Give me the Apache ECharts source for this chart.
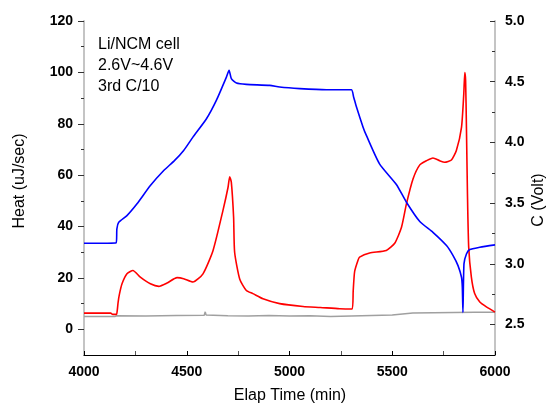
<!DOCTYPE html>
<html>
<head>
<meta charset="utf-8">
<script src="https://cdn.jsdelivr.net/npm/echarts@6/dist/echarts.min.js"></script>
<style>
html,body{margin:0;padding:0;background:#fff;}
#chart{width:547px;height:406px;}
</style>
</head>
<body>
<div id="chart"></div>
<script>
// ---- data ----
var heatTicks = [0, 20, 40, 60, 80, 100, 120];
var heatMinorTicks = [10, 30, 50, 70, 90, 110];
var voltTicks = [2.5, 3.0, 3.5, 4.0, 4.5, 5.0];
var voltMinorTicks = [2.75, 3.25, 3.75, 4.25, 4.75];
var annotation = ["Li/NCM cell", "2.6V~4.6V", "3rd C/10"];
var xTitle = "Elap Time (min)";
var leftTitle = "Heat (uJ/sec)";
var rightTitle = "C (Volt)";

// Heat (red), left axis
var redTime = [4000, 4130, 4140, 4158, 4162, 4166, 4172, 4185, 4209, 4238, 4274, 4323, 4364, 4404, 4453, 4485, 4530, 4579, 4628, 4676, 4701, 4709, 4717, 4728, 4733, 4758, 4790, 4822, 4871, 4952, 5066, 5150, 5244, 5305, 5310, 5317, 5333, 5341, 5390, 5471, 5512, 5545, 5569, 5601, 5634, 5666, 5698, 5731, 5755, 5788, 5812, 5837, 5848, 5853, 5857, 5861, 5866, 5872, 5885, 5901, 5926, 5958, 6000];
var redHeat = [6.3, 6.3, 5.8, 5.8, 7.5, 10.5, 13.5, 17.7, 21.6, 22.9, 20.3, 17.7, 16.7, 18.0, 20.1, 19.7, 18.4, 21.6, 30.7, 46.2, 55.3, 59.4, 57.2, 43.6, 30.0, 19.5, 15.1, 13.9, 11.9, 10.0, 8.9, 8.5, 8.0, 7.9, 15.0, 22.5, 26.8, 28.1, 29.7, 30.7, 33.5, 39.7, 48.8, 58.5, 64.0, 65.6, 66.7, 65.6, 65.0, 65.9, 69.6, 78.6, 91.5, 99.9, 96.7, 78.6, 52.7, 32.0, 20.3, 13.9, 10.6, 8.7, 6.7];

// Voltage (blue), right axis
var blueTime = [4000, 4157, 4160, 4169, 4209, 4258, 4323, 4388, 4440, 4485, 4530, 4596, 4644, 4693, 4706, 4717, 4742, 4790, 4904, 4952, 5050, 5180, 5301, 5312, 5326, 5358, 5374, 5438, 5520, 5569, 5634, 5698, 5764, 5796, 5820, 5837, 5841, 5844, 5849, 5861, 5877, 5926, 6000];
var blueVolt = [3.17, 3.175, 3.289, 3.343, 3.398, 3.495, 3.645, 3.769, 3.850, 3.934, 4.044, 4.195, 4.346, 4.538, 4.594, 4.525, 4.489, 4.478, 4.470, 4.456, 4.443, 4.434, 4.434, 4.375, 4.291, 4.126, 4.058, 3.824, 3.654, 3.508, 3.349, 3.260, 3.151, 3.068, 2.986, 2.890, 2.807, 2.601, 3.000, 3.082, 3.118, 3.137, 3.157];

// Baseline heat (gray), left axis
var grayTime = [4000, 4150, 4160, 4300, 4450, 4585, 4590, 4594, 4700, 4800, 4900, 5000, 5100, 5200, 5300, 5400, 5500, 5600, 5700, 5800, 5900, 6000];
var grayHeat = [5.0, 5.0, 5.3, 5.2, 5.4, 5.5, 6.8, 5.6, 5.3, 5.2, 5.4, 5.2, 5.3, 5.0, 5.2, 5.4, 5.6, 6.3, 6.4, 6.5, 6.6, 6.6];

function zip(a, b) { return a.map(function (v, i) { return [v, b[i]]; }); }

var FONT = '"Liberation Sans", Arial, sans-serif';
var chart = echarts.init(document.getElementById('chart'), null, {renderer: 'canvas'});

var option = {
  backgroundColor: '#fff',
  animation: false,
  grid: {left: 84, right: 52, top: 21, bottom: 51, containLabel: false, outerBoundsMode: 'none'},
  xAxis: {
    type: 'value', min: 4000, max: 6000, interval: 500,
    axisLine: {show: true, onZero: false, lineStyle: {color: '#000', width: 1}},
    axisTick: {show: true, inside: true, length: 4, lineStyle: {color: '#000'}},
    minorTick: {show: true, splitNumber: 2, length: 4, lineStyle: {color: '#555'}},
    axisLabel: {fontFamily: FONT, fontSize: 14, fontWeight: 'bold', color: '#000', margin: 10,
      formatter: function (v) { return String(v); }},
    splitLine: {show: false}
  },
  yAxis: [
    {
      type: 'value', position: 'left', min: -10, max: 120,
      axisLine: {show: true, onZero: false, lineStyle: {color: '#c4c4c4', width: 2}},
      axisTick: {show: true, inside: false, length: 6, customValues: heatTicks, lineStyle: {color: '#333'}},
      axisLabel: {fontFamily: FONT, fontSize: 14, fontWeight: 'bold', color: '#000', margin: 11, customValues: heatTicks},
      splitLine: {show: false}
    },
    {
      type: 'value', position: 'left', min: -10, max: 120,
      axisLine: {show: false},
      axisTick: {show: true, inside: false, length: 3, customValues: heatMinorTicks, lineStyle: {color: '#333'}},
      axisLabel: {show: false},
      splitLine: {show: false}
    },
    {
      type: 'value', position: 'right', min: 2.25, max: 5.0,
      axisLine: {show: true, onZero: false, lineStyle: {color: '#c4c4c4', width: 2}},
      axisTick: {show: true, inside: true, length: 5, customValues: voltTicks, lineStyle: {color: '#333'}},
      axisLabel: {fontFamily: FONT, fontSize: 14, fontWeight: 'bold', color: '#000', margin: 10, customValues: voltTicks,
        formatter: function (v) { return v.toFixed(1); }},
      splitLine: {show: false}
    },
    {
      type: 'value', position: 'right', min: 2.25, max: 5.0,
      axisLine: {show: false},
      axisTick: {show: true, inside: true, length: 3, customValues: voltMinorTicks, lineStyle: {color: '#333'}},
      axisLabel: {show: false},
      splitLine: {show: false}
    }
  ],
  series: [
    {type: 'line', yAxisIndex: 0, data: zip(grayTime, grayHeat), showSymbol: false, symbol: 'none',
      lineStyle: {color: '#a0a0a0', width: 1.5}, z: 2},
    {type: 'line', yAxisIndex: 0, data: zip(redTime, redHeat), showSymbol: false, symbol: 'none',
      smooth: 0.2,
      lineStyle: {color: '#ff0000', width: 1.6}, z: 3},
    {type: 'line', yAxisIndex: 2, data: zip(blueTime, blueVolt), showSymbol: false, symbol: 'none',
      smooth: 0.2,
      lineStyle: {color: '#0000ff', width: 1.6}, z: 4}
  ],
  graphic: annotation.map(function (t, i) {
    return {type: 'text', left: 98, top: 37 + i * 20.7,
      style: {text: t, fontFamily: FONT, fontSize: 16, fill: '#000'}};
  }).concat([
    {type: 'text', x: 290, y: 396, style: {text: xTitle, fontFamily: FONT, fontSize: 16, fill: '#000',
      textAlign: 'center', textVerticalAlign: 'middle'}},
    {type: 'text', x: 20, y: 181, rotation: Math.PI / 2, style: {text: leftTitle, fontFamily: FONT, fontSize: 16, fill: '#000',
      textAlign: 'center', textVerticalAlign: 'middle'}},
    {type: 'text', x: 539, y: 200, rotation: Math.PI / 2, style: {text: rightTitle, fontFamily: FONT, fontSize: 16, fill: '#000',
      textAlign: 'center', textVerticalAlign: 'middle'}}
  ])
};
chart.setOption(option);
</script>
</body>
</html>
